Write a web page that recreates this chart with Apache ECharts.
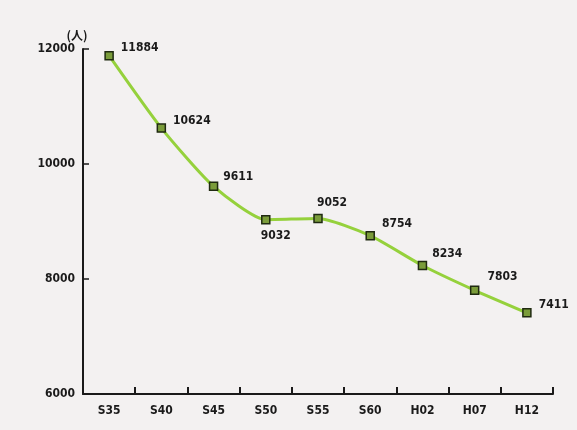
<!DOCTYPE html>
<html>
<head>
<meta charset="utf-8">
<script src="https://cdn.jsdelivr.net/npm/echarts@6/dist/echarts.min.js"></script>
<style>
html,body{margin:0;padding:0;background:#f3f1f1;}
#c{width:577px;height:430px;}
</style>
</head>
<body>
<div id="c"></div>
<script>
const categories = ['S35','S40','S45','S50','S55','S60','H02','H07','H12'];
const population = [11884,10624,9611,9032,9052,8754,8234,7803,7411];
const yTicks = [6000,8000,10000,12000];

// per-point label placement (style only)
const labelStyles = [
  {position:'right', offset:[2,-8]},
  {position:'right', offset:[2,-7]},
  {position:'right', offset:[0,-9]},
  {position:'bottom', offset:[10,0]},
  {position:'top', offset:[14,0]},
  {position:'right', offset:[2,-12]},
  {position:'right', offset:[0,-12]},
  {position:'right', offset:[3,-13]},
  {position:'right', offset:[2,-8]}
];

const font = '"DejaVu Sans Condensed","Liberation Sans Narrow",sans-serif';
const chart = echarts.init(document.getElementById('c'));
chart.setOption({
  backgroundColor:'#f3f1f1',
  animation:false,
  grid:{left:83,right:24,top:49,bottom:36,containLabel:false},
  xAxis:{
    type:'category',
    data:categories,
    boundaryGap:true,
    axisLine:{lineStyle:{color:'#1a1a1a',width:2}},
    axisTick:{show:true,inside:true,length:7,interval:0,lineStyle:{color:'#1a1a1a',width:2}},
    axisLabel:{color:'#1a1a1a',fontFamily:font,fontWeight:'bold',fontSize:12,margin:11},
    splitLine:{show:false}
  },
  yAxis:{
    type:'value',
    min:yTicks[0],
    max:yTicks[yTicks.length-1],
    interval:2000,
    name:'(人)',
    nameLocation:'end',
    nameGap:8,
    nameTextStyle:{color:'#1a1a1a',fontFamily:'"Noto Sans CJK JP",sans-serif',fontWeight:'bold',fontSize:12,align:'center',padding:[0,12,0,0]},
    axisLine:{show:true,lineStyle:{color:'#1a1a1a',width:2}},
    axisTick:{show:true,inside:true,length:6,lineStyle:{color:'#1a1a1a',width:1.5}},
    axisLabel:{color:'#1a1a1a',fontFamily:font,fontWeight:'bold',fontSize:12,margin:8,formatter:v=>String(v)},
    splitLine:{show:false}
  },
  graphic:[],
  series:[{
    type:'line',
    smooth:0.2,
    data:population.map((v,i)=>({value:v,label:labelStyles[i]})),
    symbol:'rect',
    symbolSize:8,
    itemStyle:{color:'#7a9c3a',borderColor:'#1f2a10',borderWidth:1.5},
    lineStyle:{color:'#95d13c',width:3},
    label:{show:true,color:'#1a1a1a',fontFamily:font,fontWeight:'bold',fontSize:12}
  }]
});
</script>
</body>
</html>
